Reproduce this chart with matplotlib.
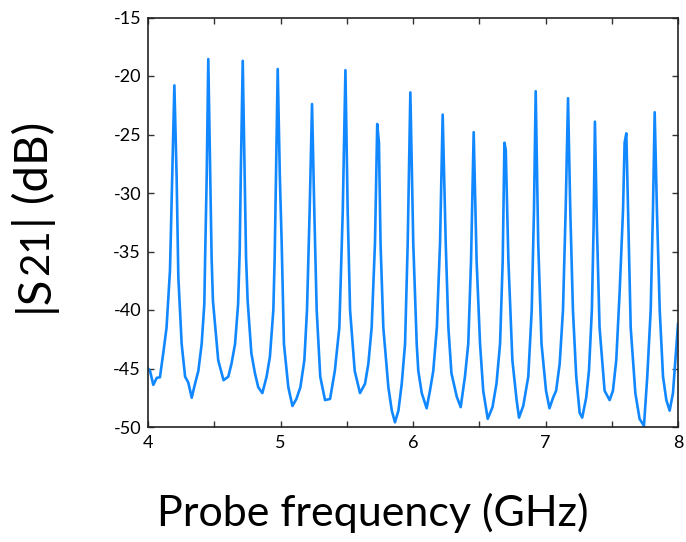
import matplotlib
matplotlib.use("Agg")
import matplotlib.pyplot as plt
from matplotlib.ticker import MultipleLocator

# Transmission trace (GHz, dB)
freq_ghz = [
    4.00, 4.015, 4.04, 4.066, 4.09, 4.115, 4.14, 4.166, 4.186, 4.199, 4.216, 4.229, 4.254,
    4.28, 4.304, 4.33, 4.355, 4.38, 4.405, 4.425, 4.432, 4.443, 4.455, 4.47, 4.48, 4.49, 4.53,
    4.57, 4.606, 4.63, 4.657, 4.68, 4.692, 4.70, 4.715, 4.73, 4.74, 4.752, 4.78, 4.807, 4.832,
    4.863, 4.895, 4.92, 4.946, 4.956, 4.966, 4.979, 4.995, 5.009, 5.026, 5.059, 5.09, 5.12,
    5.15, 5.18, 5.20, 5.22, 5.238, 5.255, 5.273, 5.30, 5.336, 5.374, 5.41, 5.444,
    5.47, 5.49, 5.507, 5.525, 5.56, 5.60, 5.638, 5.663, 5.688, 5.713, 5.73, 5.743,
    5.755, 5.776, 5.814, 5.84, 5.864, 5.89, 5.915, 5.94, 5.96, 5.98, 6.002, 6.028,
    6.04, 6.066, 6.103, 6.128, 6.153, 6.18, 6.204, 6.224, 6.247, 6.267, 6.29, 6.33,
    6.36, 6.392, 6.417, 6.438, 6.458, 6.48, 6.506, 6.53, 6.564, 6.60, 6.63, 6.657,
    6.677, 6.69, 6.70, 6.72, 6.75, 6.782, 6.80, 6.832, 6.87, 6.896, 6.913, 6.926,
    6.945, 6.97, 7.004, 7.03, 7.057, 7.08, 7.107, 7.132, 7.152, 7.17, 7.187, 7.207,
    7.232, 7.258, 7.277, 7.307, 7.328, 7.35, 7.363, 7.373, 7.388, 7.408, 7.446, 7.484,
    7.509, 7.534, 7.559, 7.585, 7.597, 7.61, 7.623, 7.643, 7.678, 7.71, 7.743, 7.768,
    7.794, 7.811, 7.824, 7.841, 7.862, 7.887, 7.912, 7.937, 7.962, 7.98, 8.00,
]
s21_db = [
    -45.0, -45.2, -46.4, -45.8, -45.75, -43.7, -41.5, -36.6, -27.2, -20.8, -28.6, -37.2, -42.9,
    -45.7, -46.2, -47.5, -46.3, -45.2, -42.9, -39.5, -35.0, -28.6, -18.55, -28.6, -35.5, -39.2, -44.3,
    -46.0, -45.7, -44.6, -42.9, -39.5, -35.0, -28.6, -18.7, -28.6, -35.5, -39.2, -43.7, -45.4, -46.6,
    -47.1, -45.7, -44.0, -40.0, -35.5, -28.6, -19.4, -28.6, -34.3, -42.9, -46.6, -48.2, -47.6,
    -46.6, -44.3, -40.0, -31.5, -22.4, -31.5, -40.0, -45.7, -47.7, -47.6, -45.2, -41.5,
    -31.5, -19.5, -31.5, -40.0, -45.2, -47.1, -46.3, -44.6, -41.5, -34.3, -24.1, -25.7,
    -34.3, -41.5, -46.6, -48.6, -49.6, -48.6, -46.3, -42.9, -34.3, -21.4, -34.3, -42.9,
    -45.2, -47.1, -48.4, -46.9, -45.2, -41.5, -34.3, -23.3, -34.3, -41.5, -45.4, -47.4,
    -48.3, -45.7, -42.9, -35.8, -24.8, -35.8, -42.9, -46.9, -49.3, -48.3, -46.3, -42.9,
    -35.8, -25.7, -26.3, -35.8, -44.3, -47.7, -49.2, -48.2, -45.7, -40.0, -31.5, -21.3,
    -34.3, -42.9, -46.9, -48.4, -47.5, -46.9, -44.6, -40.0, -31.5, -21.9, -31.5, -40.0,
    -45.7, -48.8, -49.2, -47.5, -45.2, -40.0, -32.9, -23.9, -32.9, -41.5, -46.9, -47.7,
    -46.9, -44.3, -38.6, -31.5, -25.7, -24.9, -31.5, -41.5, -47.1, -49.3, -49.9, -45.7,
    -40.0, -31.5, -23.1, -31.5, -40.0, -45.7, -47.7, -48.6, -47.1, -44.3, -41.2,
]

x_ticks = [4, 5, 6, 7, 8]
y_ticks = [-50, -45, -40, -35, -30, -25, -20, -15]

plt.rcParams['font.family'] = ['Lato', 'DejaVu Sans']

fig = plt.figure(figsize=(6.86, 5.42), dpi=100)
ax = fig.add_axes([148 / 686, 1 - 427 / 542, 530 / 686, 409.5 / 542])

ax.plot(freq_ghz, s21_db, color='#1188ff', lw=1.9)

ax.set_xlim(4, 8)
ax.set_ylim(-50, -15)
ax.set_xticks(x_ticks)
ax.xaxis.set_minor_locator(MultipleLocator(0.5))
ax.set_yticks(y_ticks)
ax.set_yticklabels([str(v) for v in y_ticks])
ax.tick_params(which='both', direction='in', top=True, right=True,
               length=4, width=1, labelsize=13, color='#333333')
ax.tick_params(axis='x', pad=6)
ax.tick_params(axis='y', pad=5)
for sp in ax.spines.values():
    sp.set_linewidth(1.2)
    sp.set_color('#222222')

# x label sits a bit left of the axes centre in the reference
fig.text(373 / 686, 1 - 526 / 542, 'Probe frequency (GHz)', ha='center',
         va='baseline', fontsize=31, color='black')

# y label: |S21| (dB) with smaller "21" on the baseline, built piece by piece
fig.canvas.draw()
renderer = fig.canvas.get_renderer()
pieces = [('|S', 34), ('21', 29), ('| (dB)', 34)]
x0 = 48 / 686
y_px = 312
for txt, size in pieces:
    t = fig.text(x0, 1 - y_px / 542, txt, rotation=90, rotation_mode='anchor',
                 ha='left', va='baseline', fontsize=size, color='black')
    ext = t.get_window_extent(renderer)
    y_px -= ext.height

fig.savefig('out.png', dpi=100)
